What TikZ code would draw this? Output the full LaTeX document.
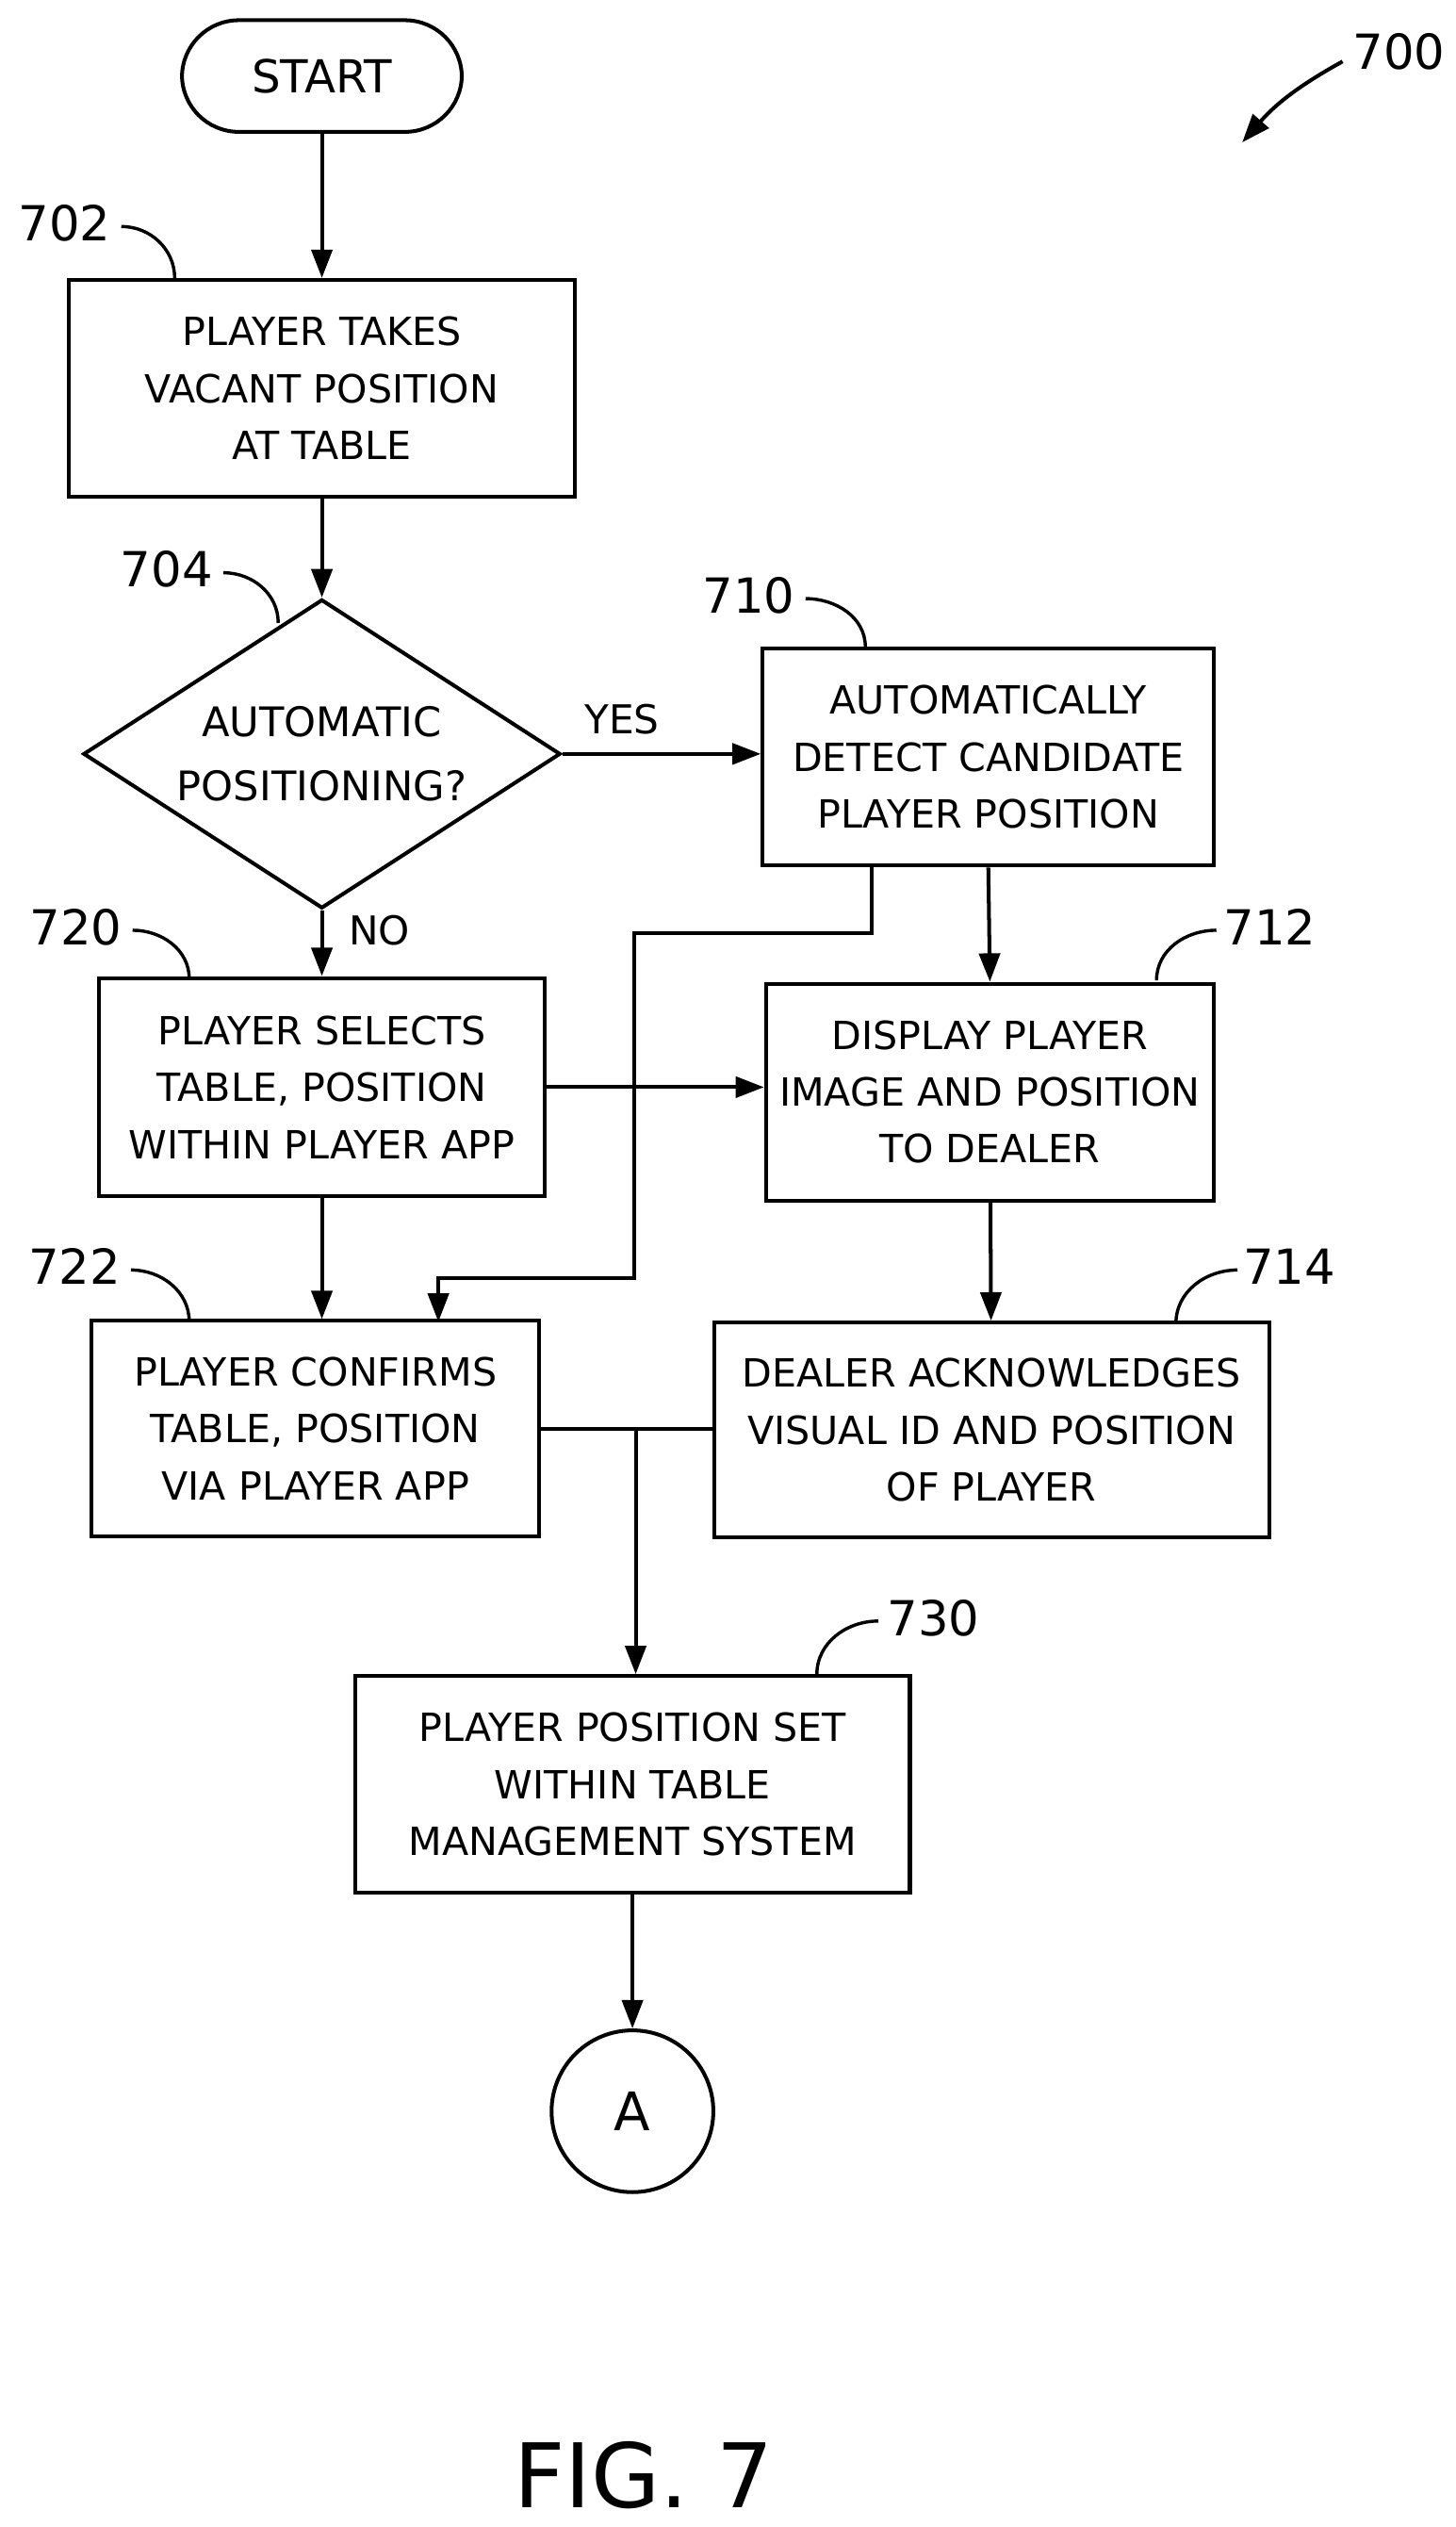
\documentclass[tikz,border=0pt]{standalone}
\usepackage{fontspec}
\setmainfont{DejaVu Sans}
\usetikzlibrary{shapes.geometric,arrows.meta}
\begin{document}
\begin{tikzpicture}[x=0.03cm,y=-0.03cm,
  box/.style={draw,line width=2pt,inner sep=0pt,align=center,font=\fontsize{20.5}{30}\selectfont},
  arr/.style={line width=2pt,-{Triangle[length=15pt,width=11pt]}},
  lbl/.style={font=\fontsize{25.5}{28}\selectfont},
  hook/.style={line width=1.7pt}]
  \useasboundingbox (0,0) rectangle (900,1562);

  \node[box,rounded corners=30pt,minimum width=5.19cm,minimum height=2.07cm,font=\fontsize{24}{28}\selectfont] (start) at (199,47) {START};
  \node[box,minimum width=9.39cm,minimum height=4.02cm] (p702) at (199,240) {PLAYER TAKES\\VACANT POSITION\\AT TABLE};
  \node[box,diamond,aspect=1.55,minimum width=8.85cm,minimum height=5.73cm,font=\fontsize{21.5}{34}\selectfont] (d704) at (199,466) {AUTOMATIC\\POSITIONING?};
  \node[box,minimum width=8.37cm,minimum height=4.02cm] (p710) at (611,468) {AUTOMATICALLY\\DETECT CANDIDATE\\PLAYER POSITION};
  \node[box,minimum width=8.28cm,minimum height=4.05cm] (p720) at (199,672) {PLAYER SELECTS\\TABLE, POSITION\\WITHIN PLAYER APP};
  \node[box,minimum width=8.31cm,minimum height=4.02cm] (p712) at (612,675) {DISPLAY PLAYER\\IMAGE AND POSITION\\TO DEALER};
  \node[box,minimum width=8.31cm,minimum height=3.99cm] (p722) at (195,883) {PLAYER CONFIRMS\\TABLE, POSITION\\VIA PLAYER APP};
  \node[box,minimum width=10.29cm,minimum height=3.99cm] (p714) at (613,884) {DEALER ACKNOWLEDGES\\VISUAL ID AND POSITION\\OF PLAYER};
  \node[box,minimum width=10.29cm,minimum height=4.02cm] (p730) at (391,1103) {PLAYER POSITION SET\\WITHIN TABLE\\MANAGEMENT SYSTEM};
  \node[box,circle,minimum size=3cm,font=\fontsize{28}{30}\selectfont] (conA) at (391,1305) {A};

  \draw[arr] (start) -- (p702);
  \draw[arr] (p702) -- (d704);
  \draw[arr] (d704.east) -- node[above,font=\fontsize{21}{24}\selectfont,yshift=6pt,pos=0.3] {YES} (p710.west |- d704.east);
  \draw[arr] (d704.south) -- node[right,font=\fontsize{21}{24}\selectfont,xshift=10pt,pos=0.3] {NO} (p720.north);
  \draw[arr] (p710.south) -- (p712.north);
  \coordinate (c710) at (539,535);
  \draw[arr] (c710) -- (539,577) -- (392,577) -- (392,790) -- (271,790) -- (271,817);
  \draw[arr] (p720.east) -- (p712.west |- p720.east);
  \draw[arr] (p720.south) -- (p720.south |- p722.north);
  \draw[arr] (p712) -- (p714);
  \coordinate (join) at (393,883);
  \draw[line width=2pt] (p722.east) -- (p714.west |- p722.east);
  \draw[arr] (join) -- (p730.north -| join);
  \draw[arr] (p730) -- (conA);

  % reference numerals
  \node[lbl] (n700) at (865,32) {700};
  \draw[line width=2pt,-{Triangle[length=15pt,width=11pt]}] (830,38) to[bend right=10] (768,88);
  \node[lbl] (n702) at (40,138) {702};
  \draw[hook] (75,140) to[out=0,in=90] (108,172);
  \node[lbl] (n704) at (103,352) {704};
  \draw[hook] (138,354) to[out=0,in=90] (172,385);
  \node[lbl] (n710) at (463,368) {710};
  \draw[hook] (498,370) to[out=0,in=90] (535,400);
  \node[lbl] (n720) at (47,573) {720};
  \draw[hook] (82,575) to[out=0,in=90] (117,605);
  \node[lbl] (n712) at (785,573) {712};
  \draw[hook] (752,575) to[out=180,in=90] (715,606);
  \node[lbl] (n722) at (46,783) {722};
  \draw[hook] (81,785) to[out=0,in=90] (117,817);
  \node[lbl] (n714) at (797,783) {714};
  \draw[hook] (765,785) to[out=180,in=90] (727,818);
  \node[lbl] (n730) at (577,1000) {730};
  \draw[hook] (543,1002) to[out=180,in=90] (505,1035);

  \node[font=\fontsize{47}{50}\selectfont] (fig) at (398,1530) {FIG. 7};
\end{tikzpicture}
\end{document}
